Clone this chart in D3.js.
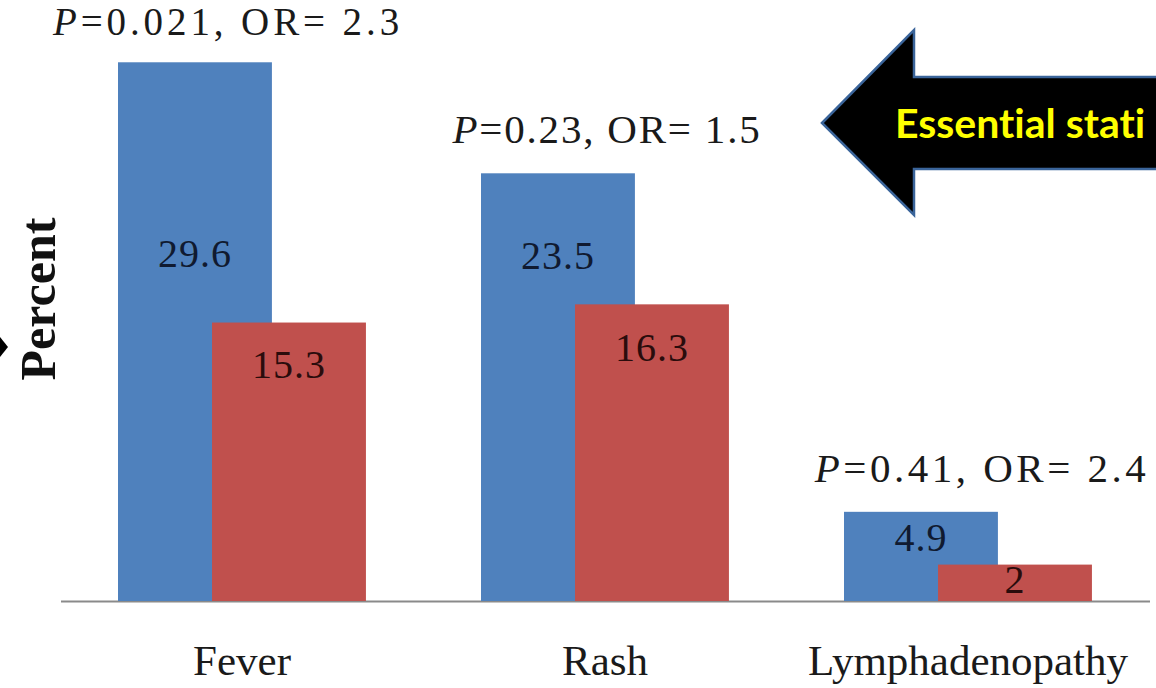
<!DOCTYPE html>
<html>
<head>
<meta charset="utf-8">
<script src="https://cdn.jsdelivr.net/npm/d3@7/dist/d3.min.js"></script>
<style>
  html, body { margin: 0; padding: 0; background: #fff; }
  svg { display: block; }
</style>
</head>
<body>
<svg id="chart" width="1156" height="688"></svg>
<script>
// ---- data ----
const categories = ["Fever", "Rash", "Lymphadenopathy"];
const seriesNames = ["Group A", "Group B"];
const seriesA = [29.6, 23.5, 4.9];
const seriesB = [15.3, 16.3, 2];
const pValues = ["0.021", "0.23", "0.41"];
const orValues = ["2.3", "1.5", "2.4"];
const yLabel = "Percent";
const calloutText = "Essential stati";

// ---- layout ----
const W = 1156, H = 688;
const baseY = 601;
const svg = d3.select("#chart");
const colors = ["#4F81BD", "#C0504D"];
const labelColors = ["#101a30", "#2a0c0c"];

const x = d3.scaleBand().domain(categories).range([60.5, 1149.5]).paddingInner(0).paddingOuter(0);
const y = d3.scaleLinear().domain([0, 30]).range([baseY, 55]);

// sub-positioning within a group (overlapping bars)
const barW = x.step() * 0.424;
const offsets = [-x.step() * 0.3416, -x.step() * 0.0826];
const labelDy = [[205, 96, 39], [55, 57, 28]];
const annDx = [-14, 2, 14];
const annDy = [-27, -30, -30];
const annSize = [39, 41, 41];
const annSpacing = [3.9, 1.8, 3.5];

const series = [seriesA, seriesB];

// axis (category labels + baseline)
const axis = d3.axisBottom(x).tickSize(0).tickSizeOuter(0);
const gAxis = svg.append("g").attr("transform", `translate(0,${baseY})`).call(axis);
gAxis.select(".domain").attr("stroke", "#8a8a8a").attr("stroke-width", 2);
gAxis.selectAll(".tick text")
  .attr("y", 74).attr("dy", null)
  .attr("font-family", "'Liberation Serif', 'Times New Roman', serif")
  .attr("font-size", 43)
  .attr("fill", "#1a1a1a");

// bars
series.forEach((vals, s) => {
  svg.append("g").selectAll("rect")
    .data(vals.map((v, i) => ({ v, c: categories[i] })))
    .join("rect")
    .attr("x", d => x(d.c) + x.bandwidth() / 2 + offsets[s])
    .attr("y", d => y(d.v))
    .attr("width", barW)
    .attr("height", d => baseY - y(d.v))
    .attr("fill", colors[s]);
});

// value labels
series.forEach((vals, s) => {
  svg.append("g").selectAll("text")
    .data(vals.map((v, i) => ({ v, c: categories[i], i })))
    .join("text")
    .attr("x", d => x(d.c) + x.bandwidth() / 2 + offsets[s] + barW / 2)
    .attr("y", d => y(d.v) + labelDy[s][d.i])
    .attr("text-anchor", "middle")
    .attr("font-family", "'Liberation Serif', 'Times New Roman', serif")
    .attr("font-size", 40)
    .attr("letter-spacing", 1)
    .attr("fill", labelColors[s])
    .text(d => d.v);
});

// P / OR annotations
categories.forEach((c, i) => {
  const top = y(Math.max(seriesA[i], seriesB[i]));
  const t = svg.append("text")
    .attr("x", x(c) + x.bandwidth() / 2 + annDx[i])
    .attr("y", top + annDy[i])
    .attr("text-anchor", "middle")
    .attr("font-family", "'Liberation Serif', 'Times New Roman', serif")
    .attr("font-size", annSize[i])
    .attr("letter-spacing", annSpacing[i])
    .attr("fill", "#1a1a1a");
  t.append("tspan").attr("font-style", "italic").text("P");
  t.append("tspan").text(`=${pValues[i]}, OR= ${orValues[i]}`);
});

// y axis title
svg.append("text")
  .attr("transform", "translate(55,299) rotate(-90)")
  .attr("text-anchor", "middle")
  .attr("font-family", "'Liberation Serif', 'Times New Roman', serif")
  .attr("font-weight", "bold")
  .attr("font-size", 50)
  .attr("fill", "#111")
  .text(yLabel);

// small arrow tip at left edge
svg.append("path")
  .attr("d", "M0,337 L8,347 L0,357 Z")
  .attr("fill", "#000");

// callout arrow
svg.append("path")
  .attr("d", "M822,123 L914,30 L914,77 L1170,77 L1170,169 L914,169 L914,215 Z")
  .attr("fill", "#000")
  .attr("stroke", "#3A649A")
  .attr("stroke-width", 2.5)
  .attr("stroke-linejoin", "miter");
svg.append("text")
  .attr("x", 895)
  .attr("y", 138)
  .attr("font-family", "Lato, 'Open Sans', sans-serif")
  .attr("font-weight", "bold")
  .attr("font-size", 41)
  .style("font-variant-ligatures", "none")
  .style("font-feature-settings", "'liga' 0")
  .attr("fill", "#FFFF00")
  .text(calloutText);
</script>
</body>
</html>
